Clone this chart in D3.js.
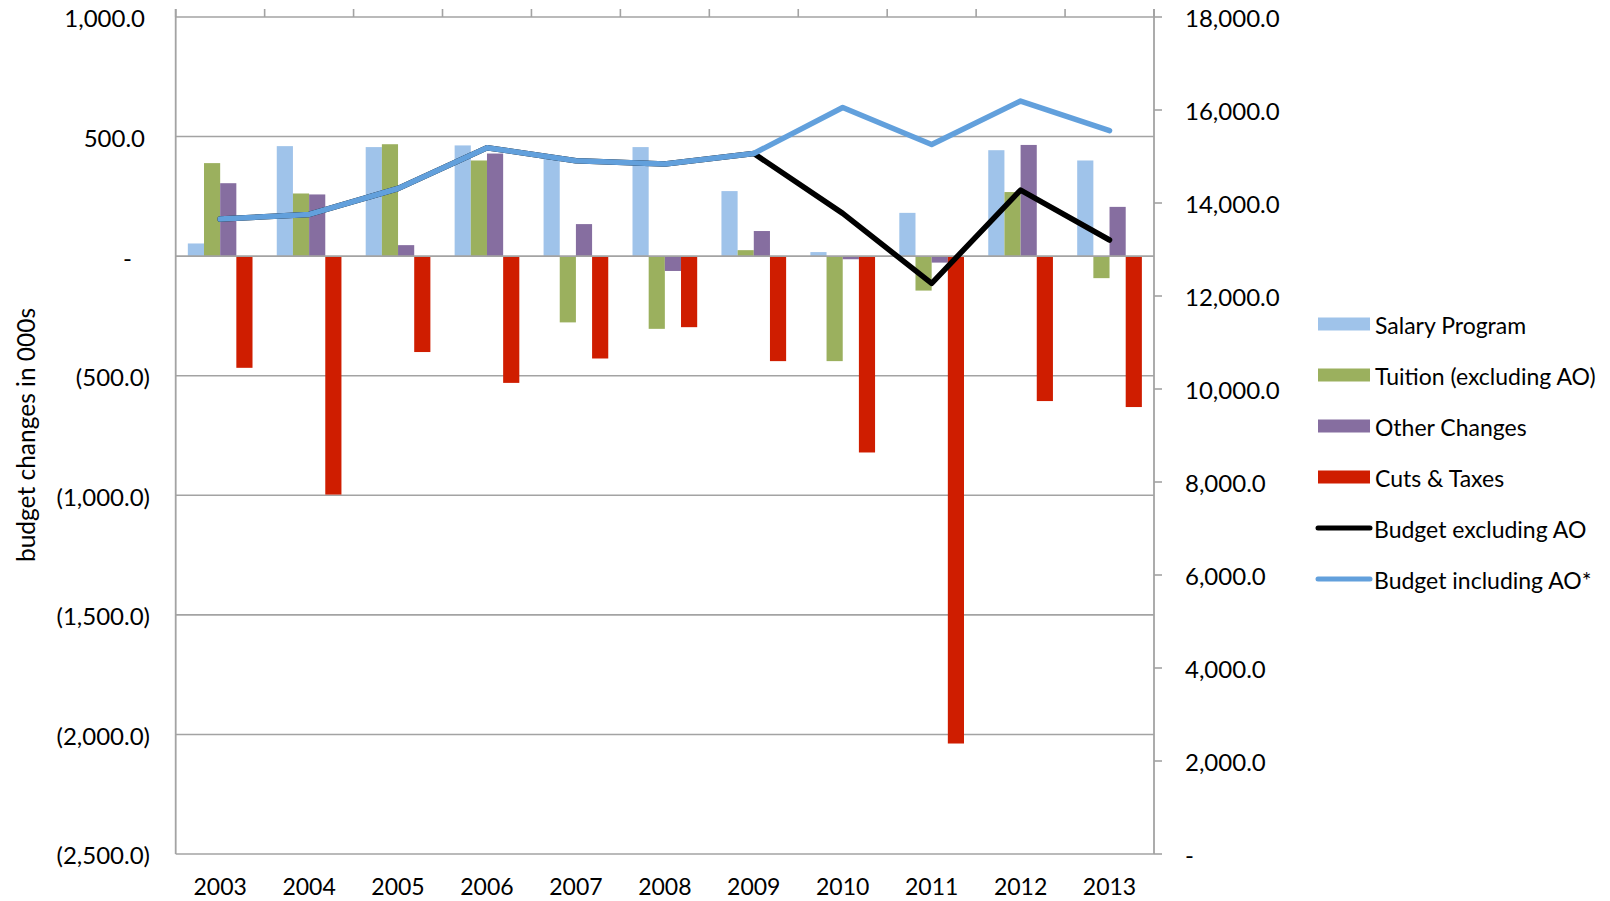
<!DOCTYPE html>
<html><head><meta charset="utf-8">
<script src="https://cdn.jsdelivr.net/npm/d3@7"></script>
<style>html,body{margin:0;padding:0;background:#fff;}svg{display:block;font-family:Lato,"Open Sans",sans-serif;}</style>
</head><body>
<svg id="c" width="1610" height="901"></svg>
<script>
const years = ["2003","2004","2005","2006","2007","2008","2009","2010","2011","2012","2013"];
const seriesNames = ["Salary Program","Tuition (excluding AO)","Other Changes","Cuts & Taxes"];
const salary  = [53, 460, 456, 463, 410, 456, 272, 17, 181, 443, 400];
const tuition = [389, 262, 468, 400, -277, -304, 25, -439, -144, 268, -92];
const other   = [305, 258, 46, 429, 134, -62, 105, -13, -27, 465, 206];
const cuts    = [-467, -997, -401, -530, -428, -297, -439, -821, -2038, -606, -631];
const budgetExcl = [13656, 13753, 14312, 15189, 14908, 14838, 15065, 13777, 12272, 14279, 13204];
const budgetIncl = [13656, 13753, 14312, 15189, 14908, 14838, 15065, 16054, 15258, 16193, 15555];
const leftTicks = [1000, 500, 0, -500, -1000, -1500, -2000, -2500];
const rightTicks = [0, 2000, 4000, 6000, 8000, 10000, 12000, 14000, 16000, 18000];
const lineNames = ["Budget excluding AO","Budget including AO*"];

const colors = ["#9fc3ea","#9bb05e","#866ea0","#cf1d00"];
const lineColors = ["#000000","#62a0dc"];
const barSeries = [salary, tuition, other, cuts];

const svg = d3.select("#c");
const L = 175.7, R = 1154, T = 17, B = 854;
const x = d3.scaleBand().domain(years).range([L, R]).paddingInner(1.5/5.5).paddingOuter(0.75/5.5);
const xs = d3.scaleBand().domain(d3.range(4)).range([0, x.bandwidth()]);
const yL = d3.scaleLinear().domain([-2500, 1000]).range([B, T]);
const yR = d3.scaleLinear().domain([0, 18000]).range([B, T]);
const grid = "#a3a3a3";
const fs = 23, fsNum = 24;

// gridlines (except zero, drawn later)
svg.append("g").selectAll("line").data(leftTicks.filter(d => d !== 0)).join("line")
  .attr("x1", L).attr("x2", R).attr("y1", d => yL(d)).attr("y2", d => yL(d))
  .attr("stroke", grid).attr("stroke-width", 1.6);

// bars
const gb = svg.append("g");
barSeries.forEach((vals, si) => {
  gb.append("g").selectAll("rect").data(vals).join("rect")
    .attr("x", (d, i) => x(years[i]) + xs(si))
    .attr("width", xs.bandwidth())
    .attr("y", d => yL(Math.max(0, d)))
    .attr("height", d => Math.abs(yL(d) - yL(0)))
    .attr("fill", colors[si]);
});

// zero line
svg.append("line").attr("x1", L).attr("x2", R).attr("y1", yL(0)).attr("y2", yL(0))
  .attr("stroke", grid).attr("stroke-width", 1.6);

// axes lines
svg.append("line").attr("x1", L).attr("x2", L).attr("y1", T - 8).attr("y2", B).attr("stroke", grid).attr("stroke-width", 1.8);
svg.append("line").attr("x1", R).attr("x2", R).attr("y1", T - 8).attr("y2", B).attr("stroke", grid).attr("stroke-width", 1.8);
// top category ticks
const bounds = d3.range(years.length + 1).map(i => L + i * x.step());
svg.append("g").selectAll("line").data(bounds).join("line")
  .attr("x1", d => d).attr("x2", d => d).attr("y1", T - 8).attr("y2", T)
  .attr("stroke", grid).attr("stroke-width", 1.6);
// right ticks
svg.append("g").selectAll("line").data(rightTicks).join("line")
  .attr("x1", R).attr("x2", R + 8).attr("y1", d => yR(d)).attr("y2", d => yR(d))
  .attr("stroke", grid).attr("stroke-width", 1.6);

// lines
const line = d3.line().x((d, i) => x(years[i]) + x.bandwidth() / 2).y(d => yR(d));
[budgetExcl, budgetIncl].forEach((vals, li) => {
  svg.append("path").datum(vals).attr("d", line).attr("fill", "none")
    .attr("stroke", lineColors[li]).attr("stroke-width", 5.5)
    .attr("stroke-linejoin", "round").attr("stroke-linecap", "round");
});

// left labels
const f1 = d3.format(",.1f");
svg.append("g").selectAll("text").data(leftTicks).join("text")
  .attr("x", d => d < 0 ? 150 : (d === 0 ? 132 : 145))
  .attr("y", d => yL(d) + 2).attr("dy", "0.35em")
  .attr("text-anchor", "end").attr("font-size", fsNum).attr("fill", "#000")
  .text(d => d === 0 ? "-" : d < 0 ? "(" + f1(-d) + ")" : f1(d));

// right labels
svg.append("g").selectAll("text").data(rightTicks).join("text")
  .attr("x", 1185).attr("y", d => yR(d) + 2).attr("dy", "0.35em")
  .attr("text-anchor", "start").attr("font-size", fsNum).attr("fill", "#000")
  .text(d => d === 0 ? "-" : f1(d));

// x labels
svg.append("g").selectAll("text").data(years).join("text")
  .attr("x", d => x(d) + x.bandwidth() / 2).attr("y", 887).attr("dy", "0.35em")
  .attr("text-anchor", "middle").attr("font-size", fs).attr("fill", "#000")
  .text(d => d);

// y title
svg.append("text").attr("transform", "translate(26,435) rotate(-90)")
  .attr("text-anchor", "middle").attr("dy", "0.35em").attr("font-size", 24.5).attr("fill", "#000")
  .text("budget changes in 000s");

// legend
const lg = svg.append("g");
const legendItems = seriesNames.map((n, i) => ({name: n, type: "bar", color: colors[i]}))
  .concat(lineNames.map((n, i) => ({name: n, type: "line", color: lineColors[i]})));
legendItems.forEach((it, i) => {
  const cy = 324 + i * 51;
  if (it.type === "bar") {
    lg.append("rect").attr("x", 1318).attr("y", cy - 6.5).attr("width", 52).attr("height", 13).attr("fill", it.color);
  } else {
    lg.append("line").attr("x1", 1318).attr("x2", 1370).attr("y1", cy).attr("y2", cy)
      .attr("stroke", it.color).attr("stroke-width", 5).attr("stroke-linecap", "round");
  }
  lg.append("text").attr("x", it.type === "bar" ? 1375 : 1374).attr("y", cy + 2).attr("dy", "0.35em")
    .attr("font-size", fs).attr("fill", "#000").text(it.name);
});
</script>
</body></html>
